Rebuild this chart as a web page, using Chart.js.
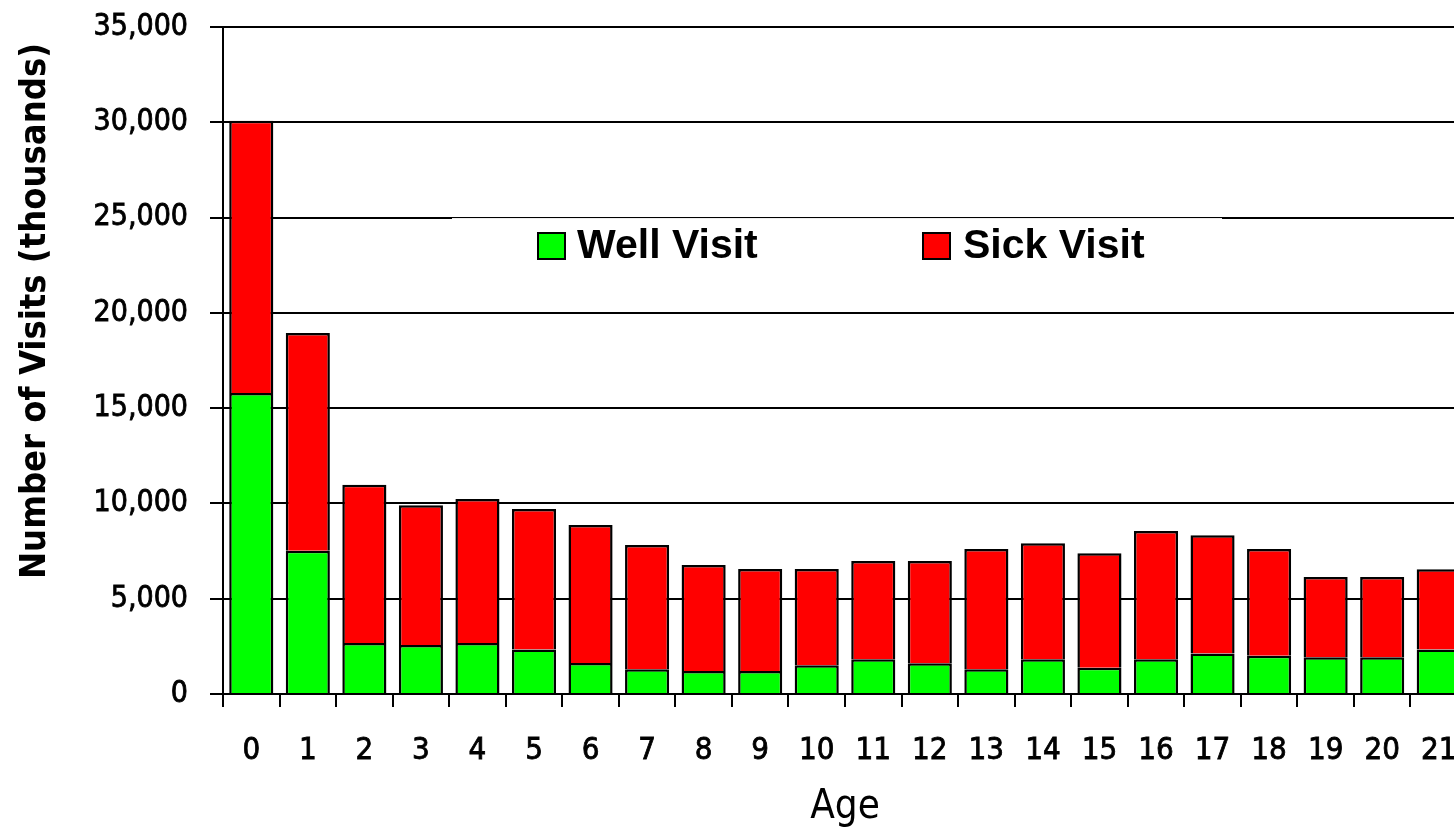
<!DOCTYPE html>
<html>
<head>
<meta charset="utf-8">
<title>Well and Sick Visits by Age</title>
<script src="https://cdn.jsdelivr.net/npm/chart.js@4/dist/chart.umd.min.js"></script>
<style>
  html, body { margin: 0; padding: 0; background: #fff; overflow: hidden; }
  #wrap { width: 1470px; height: 832px; }
  #chart { display: block; }
</style>
</head>
<body>
<div id="wrap"><canvas id="chart" width="1470" height="832"></canvas></div>
<script>
// data (thousands of visits)
const ages = ['0', '1', '2', '3', '4', '5', '6', '7', '8', '9', '10',
              '11', '12', '13', '14', '15', '16', '17', '18', '19', '20', '21'];
const wellVisits = [15800, 7520, 2680, 2570, 2680, 2340, 1630, 1300, 1210, 1210, 1510,
                    1820, 1610, 1300, 1820, 1380, 1820, 2130, 2010, 1930, 1930, 2340];
const sickVisits = [14280, 11420, 8300, 7330, 7550, 7370, 7240, 6520, 5560, 5350, 5050,
                    5160, 5370, 6310, 6090, 6000, 6730, 6200, 5600, 4210, 4210, 4200];
const yTickValues = [0, 5000, 10000, 15000, 20000, 25000, 30000, 35000];

// pick a narrow face if one is installed
function hasFont(name) {
    const c = document.createElement('canvas').getContext('2d');
    const probe = 'Number of Visits 0123456789';
    c.font = '40px monospace';
    const a = c.measureText(probe).width;
    c.font = '40px "' + name + '", monospace';
    const b = c.measureText(probe).width;
    return a !== b;
}
let narrowFamily = "'Roboto', sans-serif";
let narrowScale = 0.86;
if (hasFont('Liberation Sans Narrow')) {
    narrowFamily = "'Liberation Sans Narrow', sans-serif";
    narrowScale = 1;
} else if (hasFont('DejaVu Sans Condensed')) {
    narrowFamily = "'DejaVu Sans Condensed', sans-serif";
    narrowScale = 0.82;
}
const boldFamily = "'Liberation Sans', Arial, sans-serif";

// y axis title and the boxed legend are drawn by hand
const extrasPlugin = {
    id: 'extras',
    afterDraw(chart) {
        const ctx = chart.ctx;
        ctx.save();

        // y axis title
        ctx.translate(36, 311);
        ctx.rotate(-Math.PI / 2);
        ctx.font = 'bold ' + Math.round(44 * narrowScale) + 'px ' + narrowFamily;
        ctx.fillStyle = '#000';
        ctx.textAlign = 'center';
        ctx.textBaseline = 'middle';
        ctx.fillText('Number of Visits (thousands)', 0, 0);
        ctx.restore();

        // legend box, sitting just under the 25,000 grid line
        const boxTop = chart.scales.y.getPixelForValue(25000) + 0.5;
        ctx.save();
        ctx.fillStyle = '#fff';
        ctx.fillRect(452, boxTop, 770, 80);
        const items = [
            { x: 538, textX: 577 },
            { x: 923, textX: 963 }
        ];
        ctx.font = 'bold 41px ' + boldFamily;
        ctx.textBaseline = 'alphabetic';
        ctx.textAlign = 'left';
        chart.data.datasets.forEach(function (ds, i) {
            const it = items[i];
            ctx.fillStyle = ds.backgroundColor;
            ctx.fillRect(it.x, 233, 27, 26);
            ctx.strokeStyle = '#000';
            ctx.lineWidth = 2;
            ctx.strokeRect(it.x, 233, 27, 26);
            ctx.fillStyle = '#000';
            ctx.fillText(ds.label, it.textX, 258);
        });
        ctx.restore();
    }
};

const ctx = document.getElementById('chart').getContext('2d');
const myChart = new Chart(ctx, {
    type: 'bar',
    data: {
        labels: ages,
        datasets: [
            {
                label: 'Well Visit',
                data: wellVisits,
                backgroundColor: '#00ff00',
                borderColor: '#000',
                borderWidth: 2.5,
                barPercentage: 0.78,
                categoryPercentage: 1
            },
            {
                label: 'Sick Visit',
                data: sickVisits,
                backgroundColor: '#ff0000',
                borderColor: '#000',
                borderWidth: 2.5,
                barPercentage: 0.78,
                categoryPercentage: 1
            }
        ]
    },
    options: {
        responsive: false,
        animation: false,
        layout: {
            padding: { left: 0, top: 27, right: 3, bottom: 0 }
        },
        plugins: {
            legend: { display: false },
            tooltip: { enabled: false }
        },
        scales: {
            x: {
                stacked: true,
                grid: {
                    offset: true,
                    drawOnChartArea: false,
                    color: '#000',
                    lineWidth: 2,
                    tickLength: 13
                },
                border: { display: true, color: '#000', width: 2 },
                ticks: {
                    color: '#000',
                    font: { family: narrowFamily, size: Math.round(38 * narrowScale) },
                    textStrokeColor: '#000',
                    textStrokeWidth: 0.8,
                    padding: 25,
                    maxRotation: 0,
                    autoSkip: false
                },
                title: {
                    display: true,
                    text: 'Age',
                    color: '#000',
                    font: { family: narrowFamily, size: Math.round(49 * narrowScale), lineHeight: 1.2 },
                    padding: { top: 0, bottom: 0 }
                },
                afterFit: function (scale) {
                    scale.height = 832 - 694;
                    scale.paddingLeft = 0;
                    scale.paddingRight = 0;
                }
            },
            y: {
                stacked: true,
                min: 0,
                max: 35000,
                afterBuildTicks: function (scale) {
                    scale.ticks = yTickValues.map(function (v) { return { value: v }; });
                },
                grid: {
                    color: '#000',
                    lineWidth: 2,
                    tickLength: 13
                },
                border: { display: true, color: '#000', width: 2 },
                ticks: {
                    color: '#000',
                    font: { family: narrowFamily, size: Math.round(36 * narrowScale) },
                    textStrokeColor: '#000',
                    textStrokeWidth: 0.8,
                    padding: 22,
                    callback: function (value) {
                        return value.toLocaleString('en-US');
                    }
                },
                afterFit: function (scale) {
                    scale.width = 223;
                    scale.paddingTop = 0;
                    scale.paddingBottom = 0;
                }
            }
        }
    },
    plugins: [extrasPlugin]
});
</script>
</body>
</html>
